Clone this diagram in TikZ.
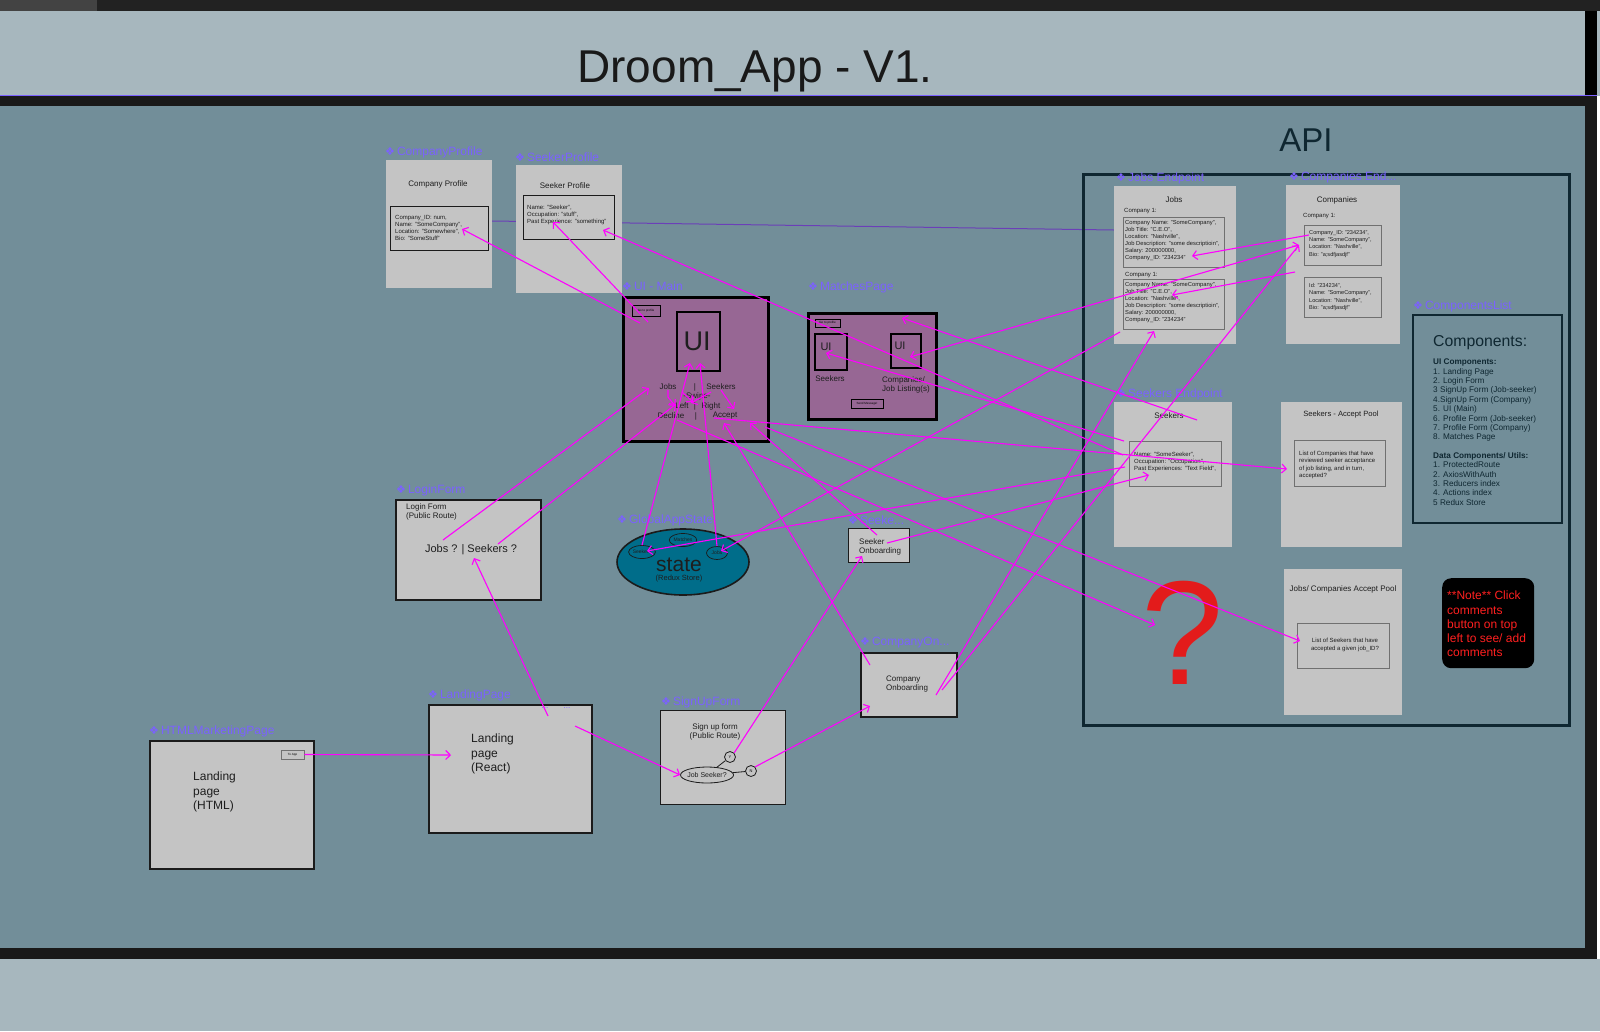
\documentclass[tikz,border=0pt]{standalone}
\usepackage{fontspec}
\setmainfont{Liberation Sans}
\newfontfamily\dejavu{DejaVu Sans}
\usetikzlibrary{shapes.geometric,arrows.meta}
\newcommand{\fsz}[2]{\fontsize{#1}{#2}\selectfont}
\newcommand{\cmpicon}{{\dejavu\fsz{11}{13}❖}\,}
\definecolor{topbar}{HTML}{222222}
\definecolor{band}{HTML}{A7B7BE}
\definecolor{canvas}{HTML}{728E99}
\definecolor{boxgrey}{HTML}{C4C4C4}
\definecolor{mauve}{HTML}{976794}
\definecolor{statec}{HTML}{006D8A}
\definecolor{lblc}{HTML}{7B61FF}
\definecolor{mag}{HTML}{FF00FF}
\definecolor{apiedge}{HTML}{0F2731}
\definecolor{purpline}{HTML}{6B3FB8}
\definecolor{qred}{HTML}{E31B1B}
\definecolor{notered}{HTML}{FF2020}
\definecolor{ink}{HTML}{1E1E1E}
\definecolor{edge}{HTML}{1B1B1B}
\definecolor{gline}{HTML}{707070}

\begin{document}
\begin{tikzpicture}[x=1pt, y=-1pt,
  box/.style={fill=boxgrey, inner sep=0, anchor=north west},
  darkbox/.style={box, draw=edge, line width=1.6pt},
  inbox/.style={draw=#1, line width=0.9pt, inner sep=0, anchor=north west},
  lbl/.style={text=lblc, anchor=west, inner sep=0, font=\fsz{12}{14}},
  txt/.style={text=ink, inner sep=0, font=\fsz{8}{9.6}},
  small/.style={text=ink, inner sep=0, anchor=west, align=left, font=\fsz{6}{7.2}},
  btn/.style={draw=black, line width=0.8pt, inner sep=0, font=\fsz{3}{3.5}},
  minis/.style={ellipse, draw=edge, line width=0.7pt, inner sep=0.3pt, minimum width=21pt, minimum height=13pt, font=\fsz{5}{6}, text=ink},
  conn/.style={draw=mag, line width=1.1pt, -{Straight Barb[length=4.5pt,width=9pt]}},
  conn2/.style={draw=mag, line width=1.1pt, {Straight Barb[length=4.5pt,width=9pt]}-{Straight Barb[length=4.5pt,width=9pt]}}]

\useasboundingbox (0,0) rectangle (1600,1031);
\fill[topbar] (0,0) rectangle (1600,11);
\fill[topbar!85!white] (0,0) rectangle (97,11);
\fill[band] (0,11) rectangle (1600,96);
\fill[black] (1585,11) rectangle (1597,96);
\fill[band] (0,959) rectangle (1600,1031);
\fill[black!90] (0,96) rectangle (1597,959);
\fill[canvas] (0,106) rectangle (1585,948);
\draw[lblc, line width=1.5pt] (0,95.5) -- (1597,95.5);

\node[text=black!90, font=\fsz{46}{50}, anchor=base, inner sep=0] (title) at (755,82) {Droom\_App - V1.};

\coordinate (pA) at (492,221);
\coordinate (pB) at (1114,230);
\draw[purpline, line width=1pt] (pA) -- (pB);

\node[box, minimum width=106pt, minimum height=128pt] (cprof) at (386,160) {};
\node[lbl] (cprofL) at (385,152) {\cmpicon CompanyProfile};
\node[txt] (cprofT) at (438,184) {Company Profile};
\node[inbox=edge, minimum width=98pt, minimum height=44pt] (cprofIn) at (390,206) {};
\node[small] (cprofD) at (395,228) {Company\_ID: num,\\Name: "SomeCompany",\\Location: "Somewhere",\\Bio: "SomeStuff"};

\node[box, minimum width=106pt, minimum height=128pt] (sprof) at (516,165) {};
\node[lbl] (sprofL) at (515,157) {\cmpicon SeekerProfile};
\node[txt] (sprofT) at (565,186) {Seeker Profile};
\node[inbox=edge, minimum width=91pt, minimum height=44pt] (sprofIn) at (523,195) {};
\node[small] (sprofD) at (527,215) {Name: "Seeker",\\Occupation: "stuff",\\Past Experience: "something"};

\node[box, fill=mauve, draw=black, line width=3pt, minimum width=145pt, minimum height=144pt] (ui) at (622,296) {};
\node[lbl] (uiL) at (622,286) {\cmpicon UI - Main};
\node[btn, fill=mauve, minimum width=28pt, minimum height=11pt] (uiGo) at (646,310.5) {Go to profile};
\node[inbox=black, line width=2pt, minimum width=43pt, minimum height=59pt] (uiBox) at (676,311) {};
\node[txt, font=\fsz{27}{30}] (uiBig) at (697,341) {UI};
\node[txt] (uJobs) at (668,387) {Jobs};
\node[txt] (uBar1) at (695,387) {|};
\node[txt] (uSeek) at (721,387) {Seekers};
\node[txt] (uSwipe) at (697,396) {-Swipe-};
\node[txt] (uLeft) at (682,406) {Left};
\node[txt] (uBar2) at (695,406) {|};
\node[txt] (uRight) at (711,406) {Right};
\node[txt] (uDecl) at (671,416) {Decline};
\node[txt] (uBar3) at (696,416) {|};
\node[txt] (uAcc) at (725,416) {Accept};

\node[box, fill=mauve, draw=black, line width=3pt, minimum width=128pt, minimum height=106pt] (mp) at (807,312) {};
\node[lbl] (mpL) at (808,287) {\cmpicon MatchesPage};
\node[btn, fill=mauve, minimum width=25pt, minimum height=8pt] (mpGo) at (827.5,323) {Go to profile};
\node[inbox=black, line width=2pt, minimum width=32pt, minimum height=36pt] (mpUIa) at (814,333) {};
\node[txt, font=\fsz{11}{13}] (mpUIaT) at (826,347) {UI};
\node[inbox=black, line width=2pt, minimum width=30pt, minimum height=34pt] (mpUIb) at (890,333) {};
\node[txt, font=\fsz{11}{13}] (mpUIbT) at (900,346) {UI};
\node[txt] (mpSeek) at (830,379) {Seekers};
\node[txt, align=left, anchor=west] (mpComp) at (882,385) {Companies/\\Job Listing(s)};
\node[btn, fill=mauve, minimum width=32pt, minimum height=9pt] (mpSend) at (867,403.5) {Send Message!};

\node[darkbox, minimum width=145pt, minimum height=100pt] (login) at (395,499) {};
\node[lbl] (loginL) at (396,490) {\cmpicon LoginForm};
\node[txt, align=left, anchor=north west] (loginT) at (406,503) {Login Form\\(Public Route)};
\node[txt, font=\fsz{11}{13}] (loginQ) at (471,550) {Jobs ? | Seekers ?};

\node[ellipse, draw=edge, line width=1.6pt, fill=statec, minimum width=132pt, minimum height=66pt, inner sep=0] (state) at (683,562) {};
\node[lbl] (stateL) at (617,520) {\cmpicon GlobalAppState};
\node[txt, font=\fsz{21}{24}] (stateT) at (679,565) {state};
\node[txt, font=\fsz{7.5}{9}] (stateR) at (679,579) {(Redux Store)};
\node[minis] (stSeek) at (642,552) {Seekers};
\node[minis] (stMatch) at (683,540) {Matches};
\node[minis] (stJobs) at (717,553) {Jobs};

\node[darkbox, line width=1.4pt, minimum width=61pt, minimum height=34pt] (seekOn) at (848,528) {};
\node[lbl] (seekOnL) at (848,520) {\cmpicon Seeke...};
\node[txt, align=left, anchor=west] (seekOnT) at (859,547) {Seeker\\Onboarding};

\node[darkbox, line width=2pt, minimum width=96pt, minimum height=64pt] (compOn) at (860,652) {};
\node[lbl] (compOnL) at (860,643) {\cmpicon CompanyOn...};
\node[txt, align=left, anchor=west] (compOnT) at (886,684) {Company\\Onboarding};

\node[darkbox, line width=1.8pt, minimum width=163pt, minimum height=128pt] (land) at (428,704) {};
\node[lbl] (landL) at (428,695) {\cmpicon LandingPage};
\node[txt, font=\fsz{12}{14.2}, align=left, anchor=west] (landT) at (471,754) {Landing\\page\\(React)};
\node[text=lblc, font=\fsz{8}{9}, inner sep=0] (dots1) at (545,708) {...};
\node[text=lblc, font=\fsz{8}{9}, inner sep=0] (dots2) at (567,708) {...};

\node[darkbox, line width=1.3pt, minimum width=125pt, minimum height=94pt] (sign) at (660,710) {};
\node[lbl] (signL) at (661,702) {\cmpicon SignUpForm};
\node[txt, align=center] (signT) at (715,732) {Sign up form\\(Public Route)};
\node[ellipse, draw=edge, line width=0.8pt, minimum width=53pt, minimum height=16pt, inner sep=0] (js) at (707,775) {};
\node[txt, font=\fsz{7}{8}] (jsT) at (707,775) {Job Seeker?};
\node[circle, draw=edge, line width=0.8pt, minimum size=11pt, inner sep=0, font=\fsz{4}{5}] (yc) at (730,757) {Y};
\node[circle, draw=edge, line width=0.8pt, minimum size=11pt, inner sep=0, font=\fsz{4}{5}] (nc) at (751,771) {N};
\draw[edge, line width=0.8pt] (js) -- (yc);
\draw[edge, line width=0.8pt] (js) -- (nc);

\node[darkbox, line width=1.8pt, minimum width=164pt, minimum height=128pt] (html) at (149,740) {};
\node[lbl] (htmlL) at (149,731) {\cmpicon HTMLMarketingPage};
\node[btn, draw=gline, fill=boxgrey, minimum width=23pt, minimum height=9pt] (toApp) at (292.5,754.5) {To App};
\node[txt, font=\fsz{12}{14.2}, align=left, anchor=west] (htmlT) at (193,792) {Landing\\page\\(HTML)};

\node[draw=apiedge, line width=3pt, inner sep=0, anchor=north west, minimum width=486pt, minimum height=551pt] (api) at (1082,173) {};
\node[text=apiedge, font=\fsz{33}{36}, anchor=base, inner sep=0] (apiT) at (1306,151) {API};

\node[box, minimum width=122pt, minimum height=158pt] (jobs) at (1114,186) {};
\node[lbl] (jobsL) at (1116,178) {\cmpicon Jobs Endpoint};
\node[txt] (jobsT) at (1174,200) {Jobs};
\node[small] (jobsC1) at (1124,211) {Company 1:};
\node[inbox=gline, minimum width=101pt, minimum height=50pt] (jobsA) at (1123,217) {};
\node[small, font=\fsz{5.8}{7}] (jobsAT) at (1125,241) {Company Name: "SomeCompany",\\Job Title: "C.E.O",\\Location: "Nashville",\\Job Description: "some descriptioin",\\Salary: 200000000,\\Company\_ID: "234234"};
\node[small] (jobsC2) at (1125,275) {Company 1:};
\node[inbox=gline, minimum width=101pt, minimum height=50pt] (jobsB) at (1123,279) {};
\node[small, font=\fsz{5.8}{7}] (jobsBT) at (1125,303) {Company Name: "SomeCompany",\\Job Title: "C.E.O",\\Location: "Nashville",\\Job Description: "some descriptioin",\\Salary: 200000000,\\Company\_ID: "234234"};

\node[box, minimum width=114pt, minimum height=159pt] (comps) at (1286,185) {};
\node[lbl] (compsL) at (1289,177) {\cmpicon Companies End...};
\node[txt] (compsT) at (1337,200) {Companies};
\node[small] (compsC1) at (1303,216) {Company 1:};
\node[inbox=gline, minimum width=77pt, minimum height=40pt] (compsA) at (1304,225) {};
\node[small, font=\fsz{5.6}{7.2}] (compsAT) at (1309,244) {Company\_ID: "234234",\\Name: "SomeCompany",\\Location: "Nashville",\\Bio: "a;sdfjasdjf"};
\node[inbox=gline, minimum width=77pt, minimum height=40pt] (compsB) at (1304,277) {};
\node[small, font=\fsz{5.6}{7.2}] (compsBT) at (1309,297) {Id: "234234",\\Name: "SomeCompany",\\Location: "Nashville",\\Bio: "a;sdfjasdjf"};

\node[box, minimum width=118pt, minimum height=145pt] (seek) at (1114,402) {};
\node[lbl] (seekL) at (1116,394) {\cmpicon Seekers Endpoint};
\node[txt] (seekT) at (1169,416) {Seekers};
\node[inbox=gline, minimum width=92pt, minimum height=45pt] (seekA) at (1129,441) {};
\node[small] (seekAT) at (1134,462) {Name: "SomeSeeker",\\Occupation: "Occupation",\\Past Experiences: "Text Field",};

\node[box, minimum width=121pt, minimum height=145pt] (sPool) at (1281,402) {};
\node[txt, font=\fsz{7.6}{9}] (sPoolT) at (1341,415) {Seekers - Accept Pool};
\node[inbox=gline, minimum width=91pt, minimum height=46pt] (sPoolA) at (1294,440) {};
\node[small] (sPoolAT) at (1299,465) {List of Companies that have\\reviewed seeker acceptance\\of job listing, and in turn,\\accepted?};

\node[box, minimum width=118pt, minimum height=146pt] (jPool) at (1284,569) {};
\node[txt] (jPoolT) at (1343,589) {Jobs/ Companies Accept Pool};
\node[inbox=gline, minimum width=92pt, minimum height=45pt] (jPoolA) at (1297,623) {};
\node[small, align=center, anchor=center] (jPoolAT) at (1345,645) {List of Seekers that have\\accepted a given job\_ID?};

\node[text=qred, font=\fsz{148}{150}, inner sep=0] (qmark) at (1183,633) {?};

\node[fill=black, rounded corners=9pt, inner sep=0, minimum width=92pt, minimum height=90pt, anchor=north west] (note) at (1442,578) {};
\node[text=notered, font=\fsz{12}{14.2}, align=left, anchor=west, inner sep=0] (noteT) at (1447,624) {**Note** Click\\comments\\button on top\\left to see/ add\\comments};

\node[draw=apiedge, line width=1.8pt, inner sep=0, minimum width=149pt, minimum height=208pt, anchor=north west] (clist) at (1412,314) {};
\node[lbl] (clistL) at (1413,306) {\cmpicon ComponentsList};
\node[text=apiedge, font=\fsz{15.8}{18}, anchor=west, inner sep=0] (clistT) at (1433,343) {Components:};
\node[text=apiedge, font=\fsz{8.2}{9.35}, align=left, anchor=north west, inner sep=0] (clistD) at (1433,359) {\textbf{UI Components:}\\1. Landing Page\\2. Login Form\\3 SignUp Form (Job-seeker)\\4.SignUp Form (Company)\\5. UI (Main)\\6. Profile Form (Job-seeker)\\7. Profile Form (Company)\\8. Matches Page\\[9.35pt]\textbf{Data Components/ Utils:}\\1. ProtectedRoute\\2. AxiosWithAuth\\3. Reducers index\\4. Actions index\\5 Redux Store};

\coordinate (landIn) at (451,755);
\coordinate (landUp) at (548,716);
\coordinate (loginIn) at (474,558);
\coordinate (landOut) at (575,726);
\coordinate (compOnIn) at (870,706);
\coordinate (seekOnIn) at (862,556);
\coordinate (loginJ) at (443,540);
\coordinate (uiJobsIn) at (649,388);
\coordinate (loginS) at (498,544);
\coordinate (uiLeftIn) at (676,404);
\coordinate (uiGoA) at (640,323);
\coordinate (cprofArr) at (462,229);
\coordinate (uiGoB) at (648,322);
\coordinate (sprofArrA) at (553,222);
\coordinate (seekOutA) at (1123,455);
\coordinate (sprofArrB) at (603,230);
\coordinate (seekTop) at (1197,420);
\coordinate (mpIn) at (902,318);
\coordinate (mpR) at (910,357);
\coordinate (compsIn) at (1299,245);
\coordinate (seekOutB) at (1124,441);
\coordinate (mpLIn) at (826,353);
\coordinate (uiAccOut) at (714,418);
\coordinate (sPoolIn) at (1287,469);
\coordinate (seekOnOut) at (877,535);
\coordinate (uiAccA) at (750,423);
\coordinate (compOnOut) at (870,665);
\coordinate (uiAccB) at (724,423);
\coordinate (uiR) at (765,427);
\coordinate (jPoolIn) at (1300,641);
\coordinate (uiDecl) at (677,420);
\coordinate (qIn) at (1155,625);
\coordinate (uiBoxA) at (690,363);
\coordinate (uiBoxB) at (700,363);
\coordinate (jobsOut) at (1120,332);
\coordinate (stJobsIn) at (721,551);
\coordinate (seekOutC) at (1125,467);
\coordinate (stSeekIn) at (647,551);
\coordinate (compOnA) at (936,695);
\coordinate (jobsIn) at (1154,331);
\coordinate (compOnB) at (942,690);
\coordinate (seekOnR) at (887,543);
\coordinate (seekIn) at (1149,475);
\coordinate (compsA1) at (1309,235);
\coordinate (jobsAIn) at (1192,256);
\coordinate (compsB1) at (1295,272);
\coordinate (jobsBIn) at (1172,295);
\coordinate (uAccTop) at (734,409);
\coordinate (swA) at (682,392);
\coordinate (swB) at (693,402);
\coordinate (swC) at (711,392);
\coordinate (swD) at (691,403);

\draw[conn] (toApp.east) -- (landIn);
\draw[conn] (landUp) -- (loginIn);
\draw[conn] (landOut) -- (js.west);
\draw[conn] (nc.north east) -- (compOnIn);
\draw[conn] (yc.north east) -- (seekOnIn);
\draw[conn] (loginJ) -- (uiJobsIn);
\draw[conn] (loginS) -- (uiLeftIn);
\draw[conn] (uiGoA) -- (cprofArr);
\draw[conn] (uiGoB) -- (sprofArrA);
\draw[conn] (seekOutA) -- (sprofArrB);
\draw[conn] (seekTop) -- (mpIn);
\draw[conn2] (mpR) -- (compsIn);
\draw[conn] (seekOutB) -- (mpLIn);
\draw[conn] (uiAccOut) -- (sPoolIn);
\draw[conn] (seekOnOut) -- (uiAccA);
\draw[conn] (compOnOut) -- (uiAccB);
\draw[conn] (uiR) -- (jPoolIn);
\draw[conn] (uiDecl) -- (qIn);
\draw[conn] (stSeek.north) -- (uiBoxA);
\draw[conn] (stJobs.north) -- (uiBoxB);
\draw[conn] (jobsOut) -- (stJobsIn);
\draw[conn] (seekOutC) -- (stSeekIn);
\draw[conn] (compOnA) -- (jobsIn);
\draw[conn] (compOnB) -- (compsIn);
\draw[conn] (seekOnR) -- (seekIn);
\draw[conn] (compsA1) -- (jobsAIn);
\draw[conn] (compsB1) -- (jobsBIn);
\draw[conn] (uJobs.south) -- ++(0,7) -- (uLeft.west);
\draw[conn] (uSeek.south) -- (uAccTop);
\draw[conn] (swA) -- (swB);
\draw[conn] (swC) -- (swD);
\end{tikzpicture}
\end{document}
